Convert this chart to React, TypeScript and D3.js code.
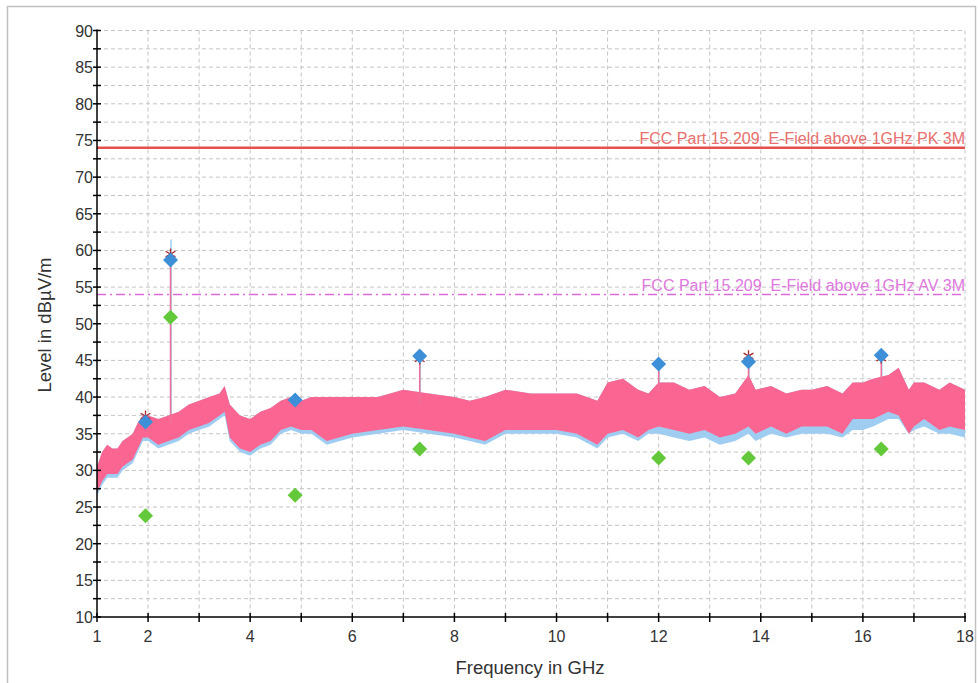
import React from "react";
import * as d3 from "d3";

// ---- Data ----
const traceFreqs = [1.0, 1.1, 1.2, 1.3, 1.4, 1.5, 1.6, 1.7, 1.8, 1.9, 2.0, 2.2, 2.4, 2.6, 2.8, 3.0, 3.2, 3.4, 3.5, 3.6, 3.8, 4.0, 4.2, 4.4, 4.6, 4.8, 5.0, 5.2, 5.5, 6.0, 6.5, 7.0, 7.5, 8.0, 8.3, 8.6, 9.0, 9.5, 10.0, 10.4, 10.8, 11.0, 11.3, 11.6, 11.8, 12.0, 12.3, 12.6, 12.9, 13.2, 13.5, 13.76, 13.9, 14.2, 14.5, 14.8, 15.0, 15.3, 15.6, 15.8, 16.0, 16.2, 16.5, 16.7, 16.9, 17.0, 17.2, 17.5, 17.7, 18.0];
const pinkTop = [30.5, 32.5, 33.5, 33, 33, 34, 34.5, 35, 36.5, 37.5, 37.5, 37, 37.5, 38, 39, 39.5, 40, 40.5, 41.5, 39, 37.5, 37, 38, 38.5, 39.5, 40, 39.5, 40, 40, 40, 40, 41, 40.5, 40, 39.5, 40, 41, 40.5, 40.5, 40.5, 39.5, 42, 42.5, 41, 40.5, 42, 42, 41, 41.5, 40, 40.5, 43, 41, 41.5, 40.5, 41, 41, 41.5, 40.5, 42, 42, 42.5, 43, 44, 41, 42, 42, 41, 42, 41];
const pinkBottom = [27, 28.5, 29.5, 29.5, 29.5, 30.5, 31, 31.5, 33, 34.5, 34.5, 33.5, 34, 34.5, 35.5, 36, 36.5, 37.5, 38, 34.5, 33, 32.5, 33.5, 34, 35.5, 36, 35.5, 35.5, 34, 35, 35.5, 36, 35.5, 35, 34.5, 34, 35.5, 35.5, 35.5, 35, 33.5, 35, 35.5, 34.5, 35.5, 36, 35.5, 35, 35.5, 34.5, 35, 36, 35, 36, 35, 36, 36, 36, 35, 37, 37, 37, 38, 37.5, 35, 36, 37, 35.5, 36, 35.5];
const blueBottom = [26.5, 28, 29, 29, 29, 30, 30.5, 31, 32.5, 34, 34, 33, 33.5, 34, 35, 35.5, 36, 37, 37.5, 34, 32.5, 32, 33, 33.5, 35, 35.5, 35, 35, 33.5, 34.5, 35, 35.5, 35, 34.5, 34, 33.5, 35, 35, 35, 34.5, 33, 34.5, 35, 34, 35, 35, 34.5, 34, 34.5, 33.5, 34, 35, 34, 35, 34.5, 35, 35, 35, 34.5, 35.5, 35.5, 36, 37, 37, 35, 35.5, 36, 35, 35, 34.5];

const spikeFreqs = [2.44, 7.32, 12.0, 13.76, 16.36];
const spikePinkTop = [59.4, 45.3, 44.5, 45.6, 45.2];
const spikeBlueTop = [61.5, 45.7, 44.6, 45.0, 45.8];

const markerFreqs = [1.95, 2.44, 4.88, 7.32, 12.0, 13.76, 16.36];
const peakValues = [36.6, 58.7, 39.6, 45.6, 44.5, 44.8, 45.7];
const avgValues = [23.8, 50.9, 26.6, 32.9, 31.7, 31.7, 32.9];
const starFreqs = [1.95, 2.44, 7.32, 13.76, 16.36];
const starValues = [37.4, 59.5, 45.2, 45.6, 45.3];

const limitPK = 74;
const limitAV = 54;
const limitPKLabel = "FCC Part 15.209\u00a0\u00a0E-Field above 1GHz PK 3M";
const limitAVLabel = "FCC Part 15.209\u00a0\u00a0E-Field above 1GHz AV 3M";

const xTickLabels = [1, 2, 4, 6, 8, 10, 12, 14, 16, 18];
const yTickLabels = [10, 15, 20, 25, 30, 35, 40, 45, 50, 55, 60, 65, 70, 75, 80, 85, 90];

const W = 978;
const H = 683;

export default function App() {
  const x = d3.scaleLinear().domain([1, 18]).range([97, 965]);
  const y = d3.scaleLinear().domain([10, 90]).range([617, 30.5]);
  const font = "'Liberation Sans', Arial, sans-serif";

  const idx = d3.range(traceFreqs.length);
  const blueArea = d3
    .area<number>()
    .x((i) => x(traceFreqs[i]))
    .y0((i) => y(blueBottom[i]))
    .y1((i) => y(pinkTop[i]));
  const pinkArea = d3
    .area<number>()
    .x((i) => x(traceFreqs[i]))
    .y0((i) => y(pinkBottom[i]))
    .y1((i) => y(pinkTop[i]));

  const xGrid = d3.range(1, 19, 1);
  const yGrid = d3.range(10, 90.01, 2.5);
  const diamond = (cx: number, cy: number, r: number) =>
    `M${cx},${cy - r}L${cx + r},${cy}L${cx},${cy + r}L${cx - r},${cy}Z`;
  const star = d3.symbol().type(d3.symbolAsterisk).size(90);
  const topAt = (f: number) => {
    const i = d3.bisector((d: number) => d).left(traceFreqs, f);
    return pinkTop[Math.min(i, traceFreqs.length - 1)] - 1.5;
  };

  return (
    <svg
      width={W}
      height={H}
      style={{ position: "absolute", left: 0, top: 0, background: "#fff" }}
    >
      <rect x={7.5} y={6.5} width={968} height={700} fill="#fff" stroke="#c0c0c0" strokeWidth={1.5} />
      {/* grid */}
      <g stroke="#c4c4c4" strokeWidth={1} strokeDasharray="4,3">
        {xGrid.slice(1).map((g) => (
          <line key={"gx" + g} x1={x(g)} x2={x(g)} y1={y(90)} y2={y(10)} />
        ))}
        {yGrid.slice(1).map((g) => (
          <line key={"gy" + g} x1={x(1)} x2={x(18)} y1={y(g)} y2={y(g)} />
        ))}
      </g>
      {/* limit lines */}
      <line x1={x(1)} x2={x(18)} y1={y(limitPK)} y2={y(limitPK)} stroke="#e5514f" strokeWidth={2.5} />
      <text x={x(18)} y={y(limitPK) - 4} textAnchor="end" fontFamily={font} fontSize={16} fill="#e8706e">
        {limitPKLabel}
      </text>
      <line
        x1={x(1)}
        x2={x(18)}
        y1={y(limitAV)}
        y2={y(limitAV)}
        stroke="#d96bd9"
        strokeWidth={1.5}
        strokeDasharray="9,4,2,4"
      />
      <text x={x(18)} y={y(limitAV) - 3} textAnchor="end" fontFamily={font} fontSize={16} fill="#de78de">
        {limitAVLabel}
      </text>
      {/* traces */}
      <path d={blueArea(idx) || ""} fill="#9fcdf2" />
      {spikeFreqs.map((f, i) => (
        <line
          key={"sb" + i}
          x1={x(f) + 0.5}
          x2={x(f) + 0.5}
          y1={y(topAt(f))}
          y2={y(spikeBlueTop[i])}
          stroke="#9fcdf2"
          strokeWidth={1.5}
        />
      ))}
      <path d={pinkArea(idx) || ""} fill="#fb6591" />
      {spikeFreqs.map((f, i) => (
        <line
          key={"sp" + i}
          x1={x(f)}
          x2={x(f)}
          y1={y(topAt(f))}
          y2={y(spikePinkTop[i])}
          stroke="#f0709a"
          strokeWidth={1.5}
        />
      ))}
      {/* markers */}
      {starFreqs.map((f, i) => (
        <path
          key={"st" + i}
          d={star() || ""}
          transform={`translate(${x(f)},${y(starValues[i])})`}
          fill="none"
          stroke="#a82424"
          strokeWidth={1.3}
        />
      ))}
      {markerFreqs.map((f, i) => (
        <path key={"pk" + i} d={diamond(x(f), y(peakValues[i]), 7.5)} fill="#3d8fd8" />
      ))}
      {markerFreqs.map((f, i) => (
        <path key={"av" + i} d={diamond(x(f), y(avgValues[i]), 7.5)} fill="#63c93a" />
      ))}
      {/* axes */}
      <g stroke="#000" strokeWidth={1.5}>
        <line x1={x(1)} x2={x(1)} y1={y(90) - 1} y2={y(10)} />
        <line x1={x(1)} x2={x(18) + 1} y1={y(10)} y2={y(10)} />
        {yGrid.map((g) => (
          <line key={"ty" + g} x1={x(1) - 4} x2={x(1) + 4} y1={y(g)} y2={y(g)} />
        ))}
        {xGrid.map((g) => (
          <line key={"tx" + g} x1={x(g)} x2={x(g)} y1={y(10) - 4} y2={y(10) + 5} />
        ))}
      </g>
      <g fontFamily={font} fontSize={16} fill="#333">
        {yTickLabels.map((t) => (
          <text key={"ly" + t} x={x(1) - 4} y={y(t) + 6} textAnchor="end">
            {t}
          </text>
        ))}
        {xTickLabels.map((t) => (
          <text key={"lx" + t} x={x(t)} y={y(10) + 25} textAnchor="middle">
            {t}
          </text>
        ))}
      </g>
      <g fontFamily={font} fontSize={18.5} fill="#333">
        <text x={530} y={674} textAnchor="middle">
          Frequency in GHz
        </text>
        <text transform={`translate(51,${325}) rotate(-90)`} textAnchor="middle">
          Level in dBµV/m
        </text>
      </g>
    </svg>
  );
}
